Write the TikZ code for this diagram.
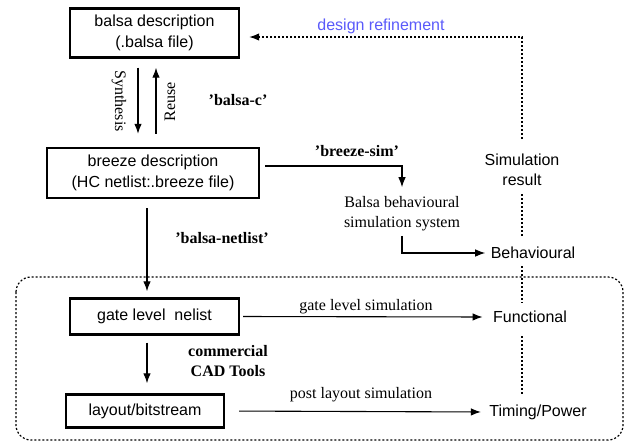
\documentclass[tikz,border=0pt]{standalone}
\usepackage{fontspec}
\setmainfont{Liberation Serif}
\setsansfont{Liberation Sans}
\usetikzlibrary{arrows.meta}
\definecolor{refineblue}{RGB}{90,90,250}
\tikzset{
  filebox/.style={draw,line width=2.4pt,align=center,font=\fontsize{16}{21}\sffamily\selectfont},
  result/.style={align=center,font=\fontsize{16}{20}\sffamily\selectfont},
  plain/.style={align=center,font=\fontsize{16}{20}\rmfamily\selectfont},
  tool/.style={align=center,font=\fontsize{16}{20}\rmfamily\bfseries\selectfont},
  flow/.style={draw,line width=1.1pt,-{Latex[length=10pt,width=7.5pt]}},
  loose/.style={draw,line width=1.2pt,dash pattern=on 2pt off 2pt}
}
\begin{document}
\begin{tikzpicture}[x=1pt,y=-1pt]
  \useasboundingbox (0,0) rectangle (628,442);
  \begin{scope}[every node/.style={filebox}]
    \node[minimum width=169pt,minimum height=49pt] (balsa) at (154.5,33) {balsa description\\(.balsa file)};
    \node[minimum width=212pt,minimum height=50pt] (breeze) at (153,173) {breeze description\\(HC netlist:.breeze file)};
    \node[minimum width=169pt,minimum height=36pt] (gate) at (154.5,316.5) {gate level\ \ nelist};
    \node[minimum width=158pt,minimum height=33pt] (layout) at (145,411) {layout/bitstream};
  \end{scope}
  \node[tool] (balsac) at (238,100) {'balsa-c'};
  \node[tool] (breezesim) at (357,151) {'breeze-sim'};
  \node[tool] (balsanetlist) at (222,238) {'balsa-netlist'};
  \node[tool] (cad) at (228,361) {commercial\\CAD Tools};
  \node[plain,rotate=-90] (synthesis) at (119,101) {Synthesis};
  \node[plain,rotate=90] (reuse) at (170,102) {Reuse};
  \node[plain] (bsim) at (402,214) {Balsa behavioural\\simulation system};
  \node[plain] (gatesim) at (366,307) {gate level simulation};
  \node[plain] (postsim) at (361,395) {post layout simulation};
  \node[result] (res) at (522,170) {Simulation\\result};
  \node[result] (beh) at (533,253) {Behavioural};
  \node[result] (fun) at (530,317) {Functional};
  \node[result] (tim) at (538,412) {Timing/Power};
  \node[result,text=refineblue] (refine) at (381,26) {design refinement};

  \draw[flow,shorten <=9pt,shorten >=13pt] ([xshift=-16.5pt]balsa.south) -- ([xshift=-16.5pt]balsa.south |- breeze.north);
  \draw[flow,shorten <=13pt,shorten >=9pt] ([xshift=1.5pt]balsa.south |- breeze.north) -- ([xshift=1.5pt]balsa.south);
  \draw[flow,shorten <=5pt,shorten >=6pt] ([yshift=7pt]breeze.east) -| (bsim.north);
  \draw[flow,shorten <=1pt,shorten >=2pt] (bsim.south) |- (beh.west);
  \draw[flow,shorten <=9pt,shorten >=6pt] ([xshift=-6pt]breeze.south) -- ([xshift=-6pt]breeze.south |- gate.north);
  \draw[flow,shorten <=7pt,shorten >=10pt] ([xshift=-7.5pt]gate.south) -- ([xshift=-7.5pt]gate.south |- layout.north);
  \draw[flow,shorten <=3pt,shorten >=7pt] (gate.east) -- (fun.west);
  \draw[flow,shorten <=14pt,shorten >=5pt] (layout.east) -- (tim.west);

  \draw[loose,-{Latex[length=10pt,width=7.5pt]},shorten <=12pt,shorten >=9pt] (res.north) |- ([yshift=-4pt]balsa.east);
  \draw[loose,shorten <=5pt,shorten >=6pt] (res.south) -- (res.south |- beh.north);
  \draw[loose,shorten <=4pt,shorten >=5pt] (res.south |- beh.south) -- (res.south |- fun.north);
  \draw[loose,shorten <=10pt,shorten >=6pt] (res.south |- fun.south) -- (res.south |- tim.north);
  \draw[loose,rounded corners=15pt] (16,277) rectangle (623,440);
\end{tikzpicture}
\end{document}
